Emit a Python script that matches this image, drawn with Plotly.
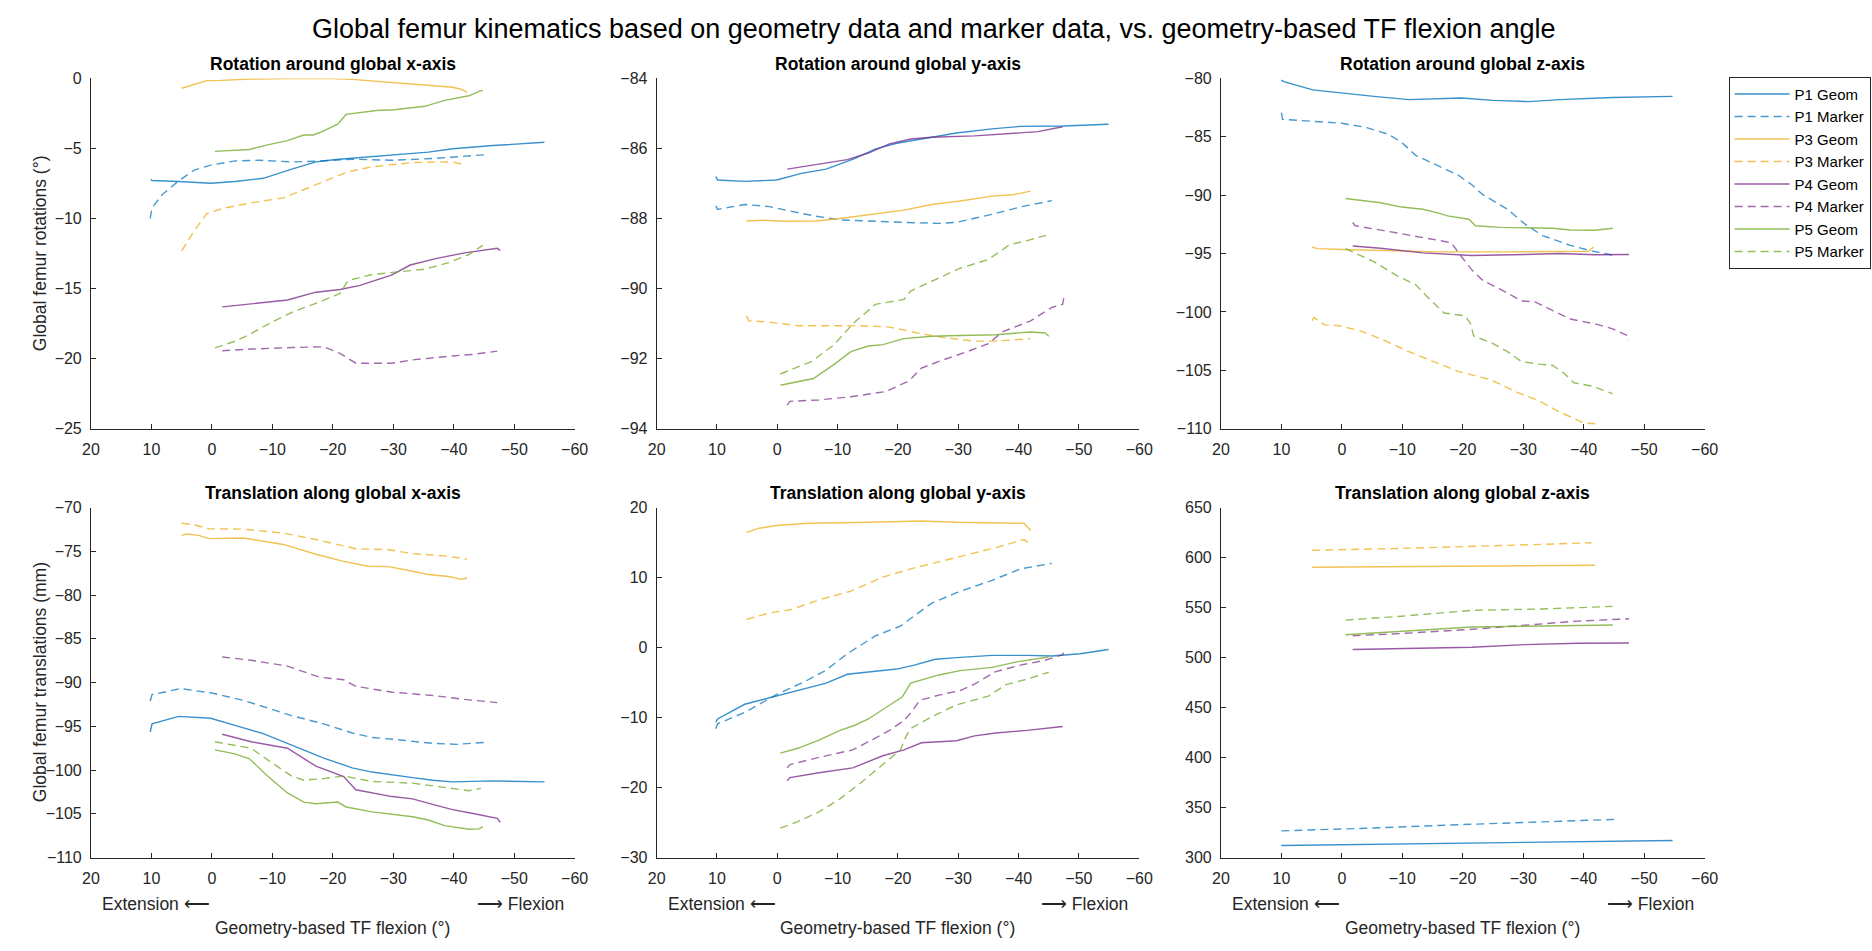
import plotly.graph_objects as go

# ---------------- data ----------------
SERIES = ["P1 Geom", "P1 Marker", "P3 Geom", "P3 Marker", "P4 Geom", "P4 Marker", "P5 Geom", "P5 Marker"]

# Rotation around global x-axis
RX_P1G_X = [10.1, 9.9, 5.5, 0.2, -3.8, -8.5, -13.2, -17.2, -20.5, -26.5, -31.2, -35.8, -39.8, -46.5, -55.0]
RX_P1G_Y = [-7.2, -7.29, -7.36, -7.48, -7.36, -7.13, -6.47, -5.96, -5.79, -5.58, -5.44, -5.26, -5.02, -4.79, -4.56]
RX_P1M_X = [10.2, 9.9, 8.2, 5.5, 2.9, 0.2, -3.8, -7.8, -13.2, -17.2, -23.2, -29.8, -36.5, -45.5]
RX_P1M_Y = [-10.0, -9.23, -8.29, -7.31, -6.54, -6.19, -5.89, -5.84, -5.96, -5.91, -5.77, -5.84, -5.72, -5.44]
RX_P3G_X = [5.0, 0.85, -1.5, -6.5, -13.2, -18.5, -23.2, -29.8, -36.5, -39.8, -41.2, -42.2]
RX_P3G_Y = [-0.70, -0.16, -0.14, -0.04, -0.01, 0.0, -0.07, -0.3, -0.54, -0.63, -0.77, -1.0]
RX_P3M_X = [5.0, 2.9, 0.85, -1.8, -6.5, -11.8, -14.5, -18.5, -22.5, -26.5, -33.2, -39.8, -42.0]
RX_P3M_Y = [-12.31, -10.86, -9.65, -9.28, -8.88, -8.53, -8.06, -7.36, -6.66, -6.31, -6.0, -5.96, -6.19]
RX_P4G_X = [-1.7, -6.5, -12.5, -17.2, -21.2, -24.5, -29.8, -32.8, -37.2, -41.8, -47.2, -47.7]
RX_P4G_Y = [-16.31, -16.07, -15.82, -15.26, -15.07, -14.77, -14.02, -13.32, -12.85, -12.45, -12.13, -12.27]
RX_P4M_X = [-1.7, -6.5, -13.2, -18.5, -21.2, -23.8, -29.8, -33.2, -39.8, -43.2, -47.2]
RX_P4M_Y = [-19.44, -19.32, -19.21, -19.16, -19.63, -20.33, -20.33, -20.09, -19.81, -19.7, -19.47]
RX_P5G_X = [-0.5, -3.15, -6.2, -9.2, -12.5, -15.2, -16.8, -18.5, -20.8, -22.2, -24.5, -27.2, -30.2, -35.2, -38.5, -42.5, -44.2, -44.8]
RX_P5G_Y = [-5.21, -5.12, -5.07, -4.74, -4.44, -4.04, -4.04, -3.74, -3.27, -2.57, -2.45, -2.29, -2.24, -1.99, -1.57, -1.24, -0.93, -0.84]
RX_P5M_X = [-0.5, -3.8, -6.5, -9.8, -13.8, -17.8, -21.2, -22.5, -26.5, -30.5, -35.2, -39.2, -42.5, -44.8]
RX_P5M_Y = [-19.23, -18.76, -18.22, -17.41, -16.59, -15.96, -15.35, -14.42, -14.0, -13.81, -13.62, -13.15, -12.57, -11.92]

# Rotation around global y-axis
RY_P1G_X = [10.2, 9.9, 5.4, 0.1, -4.0, -8.1, -12.8, -16.3, -19.8, -24.5, -29.7, -35.6, -40.3, -47.3, -54.9]
RY_P1G_Y = [-86.80, -86.90, -86.94, -86.90, -86.71, -86.59, -86.29, -86.01, -85.85, -85.71, -85.56, -85.44, -85.37, -85.36, -85.31]
RY_P1M_X = [10.2, 9.9, 5.4, 1.3, -2.2, -6.3, -10.4, -15.1, -21.0, -26.8, -29.7, -35.6, -40.3, -45.5]
RY_P1M_Y = [-87.64, -87.74, -87.60, -87.66, -87.79, -87.93, -88.04, -88.08, -88.11, -88.14, -88.11, -87.88, -87.67, -87.49]
RY_P3G_X = [5.1, 2.4, -1.1, -6.3, -10.4, -15.1, -21.0, -25.6, -30.3, -35.6, -39.1, -42.0]
RY_P3G_Y = [-88.07, -88.05, -88.08, -88.07, -88.0, -87.9, -87.76, -87.60, -87.50, -87.36, -87.32, -87.22]
RY_P3M_X = [5.1, 4.7, 1.3, -3.4, -9.3, -15.1, -18.6, -23.9, -28.0, -32.7, -36.2, -39.7, -42.0]
RY_P3M_Y = [-90.78, -90.92, -90.96, -91.06, -91.06, -91.07, -91.10, -91.29, -91.41, -91.50, -91.50, -91.46, -91.43]
RY_P4G_X = [-1.65, -6.9, -11.6, -15.1, -18.6, -22.1, -25.6, -32.7, -38.5, -43.2, -47.3]
RY_P4G_Y = [-86.59, -86.45, -86.32, -86.13, -85.87, -85.73, -85.68, -85.64, -85.57, -85.52, -85.38]
RY_P4M_X = [-1.65, -2.1, -6.9, -12.2, -18.0, -21.8, -23.9, -26.8, -31.5, -35.0, -37.3, -42.0, -45.5, -47.3, -47.6]
RY_P4M_Y = [-93.33, -93.22, -93.18, -93.09, -92.94, -92.64, -92.27, -92.08, -91.80, -91.57, -91.24, -90.92, -90.54, -90.45, -90.17]
RY_P5G_X = [-0.5, -6.0, -9.3, -12.2, -15.1, -17.5, -21.0, -25.6, -30.3, -36.2, -42.0, -44.4, -45.0]
RY_P5G_Y = [-92.76, -92.57, -92.18, -91.80, -91.64, -91.60, -91.43, -91.36, -91.34, -91.32, -91.24, -91.27, -91.36]
RY_P5M_X = [-0.5, -5.7, -9.3, -12.8, -16.3, -21.0, -22.1, -26.8, -30.3, -35.0, -38.5, -41.4, -45.0]
RY_P5M_Y = [-92.44, -92.08, -91.62, -90.96, -90.45, -90.31, -90.07, -89.70, -89.42, -89.17, -88.75, -88.63, -88.46]

# Rotation around global z-axis
RZ_P1G_X = [10.0, 9.6, 4.8, 0.0, -5.3, -11.1, -19.8, -25.0, -30.9, -36.1, -44.8, -54.7]
RZ_P1G_Y = [-80.14, -80.28, -80.98, -81.26, -81.54, -81.82, -81.68, -81.88, -81.99, -81.82, -81.63, -81.54]
RZ_P1M_X = [10.0, 9.8, 5.8, 0.0, -4.1, -7.6, -9.9, -12.2, -15.7, -19.2, -21.5, -23.3, -27.4, -30.3, -33.2, -37.8, -40.8, -44.8]
RZ_P1M_Y = [-82.94, -83.50, -83.64, -83.84, -84.21, -84.77, -85.47, -86.59, -87.43, -88.27, -89.11, -89.95, -91.21, -92.48, -93.46, -94.30, -94.72, -95.14]
RZ_P3G_X = [4.9, 4.1, 0.0, -7.0, -15.7, -27.4, -36.1, -40.8, -41.6]
RZ_P3G_Y = [-94.44, -94.58, -94.66, -94.77, -94.86, -94.86, -94.80, -94.80, -94.44]
RZ_P3M_X = [4.9, 4.6, 2.9, 0.6, -2.9, -7.0, -11.1, -15.7, -19.2, -24.5, -29.1, -32.6, -36.1, -40.1, -41.9]
RZ_P3M_Y = [-100.75, -100.47, -101.11, -101.17, -101.59, -102.43, -103.41, -104.39, -105.09, -105.79, -106.91, -107.61, -108.60, -109.52, -109.58]
RZ_P4G_X = [-1.8, -6.4, -13.4, -21.5, -30.3, -36.1, -41.9, -47.5]
RZ_P4G_Y = [-94.35, -94.55, -94.94, -95.17, -95.08, -95.0, -95.11, -95.08]
RZ_P4M_X = [-1.8, -2.2, -7.0, -12.8, -18.1, -19.8, -21.5, -23.3, -26.8, -29.7, -32.0, -34.9, -37.8, -41.9, -44.8, -47.2, -47.5]
RZ_P4M_Y = [-92.34, -92.62, -93.04, -93.60, -94.07, -95.28, -96.40, -97.30, -98.22, -99.06, -99.15, -99.90, -100.61, -101.03, -101.45, -102.01, -102.43]
RZ_P5G_X = [-0.6, -6.4, -9.9, -13.4, -15.7, -17.5, -21.0, -22.1, -26.2, -30.3, -34.9, -37.8, -41.9, -44.8]
RZ_P5G_Y = [-90.29, -90.65, -91.02, -91.21, -91.49, -91.77, -92.06, -92.62, -92.76, -92.81, -92.84, -92.98, -93.01, -92.84]
RZ_P5M_X = [-0.6, -1.8, -5.3, -9.3, -12.2, -14.0, -15.7, -16.9, -20.4, -21.3, -21.8, -25.0, -27.4, -29.7, -32.6, -34.9, -36.7, -38.4, -41.3, -44.8]
RZ_P5M_Y = [-94.58, -94.86, -95.70, -96.96, -97.66, -98.64, -99.48, -100.10, -100.33, -101.03, -102.06, -102.71, -103.41, -104.25, -104.47, -104.59, -105.23, -106.07, -106.35, -107.0]

# Translation along global x-axis
TX_P1G_X = [10.2, 9.9, 5.5, 0.2, -3.8, -8.5, -13.2, -18.5, -23.2, -26.5, -33.2, -36.5, -39.8, -46.5, -55.0]
TX_P1G_Y = [-95.65, -94.72, -93.86, -94.08, -94.90, -95.83, -97.14, -98.63, -99.75, -100.23, -100.87, -101.16, -101.35, -101.24, -101.35]
TX_P1M_X = [10.2, 9.9, 8.2, 5.2, 0.2, -5.2, -13.2, -18.5, -23.2, -26.5, -30.5, -36.5, -40.5, -45.2]
TX_P1M_Y = [-92.11, -91.36, -91.14, -90.69, -91.17, -92.03, -93.78, -94.72, -95.76, -96.28, -96.51, -96.95, -97.06, -96.84]
TX_P3G_X = [5.0, 4.2, 2.2, 0.5, -5.2, -11.8, -17.2, -21.8, -25.8, -29.2, -33.2, -35.8, -39.2, -41.2, -42.2]
TX_P3G_Y = [-73.17, -73.02, -73.17, -73.54, -73.47, -74.21, -75.33, -76.15, -76.71, -76.75, -77.27, -77.64, -77.87, -78.20, -78.05]
TX_P3M_X = [5.0, 2.9, 0.5, -5.2, -11.8, -17.2, -23.8, -29.2, -33.2, -38.5, -42.2]
TX_P3M_Y = [-71.79, -71.98, -72.42, -72.46, -72.91, -73.65, -74.70, -74.81, -75.26, -75.52, -75.89]
TX_P4G_X = [-1.7, -6.5, -12.5, -17.2, -21.8, -23.8, -29.8, -33.2, -36.5, -39.8, -43.2, -47.2, -47.7]
TX_P4G_Y = [-95.91, -96.77, -97.51, -99.56, -100.75, -102.25, -103.03, -103.29, -103.92, -104.52, -104.97, -105.53, -105.97]
TX_P4M_X = [-1.7, -6.5, -12.5, -17.8, -21.8, -23.8, -29.8, -36.5, -41.8, -47.2]
TX_P4M_Y = [-87.07, -87.45, -88.12, -89.39, -89.68, -90.43, -91.10, -91.47, -91.92, -92.29]
TX_P5G_X = [-0.5, -3.8, -6.2, -9.2, -12.5, -15.2, -17.2, -20.8, -22.2, -26.5, -33.2, -35.8, -38.5, -42.5, -44.2, -44.8]
TX_P5G_Y = [-97.70, -98.15, -98.71, -100.68, -102.62, -103.66, -103.85, -103.66, -104.22, -104.78, -105.34, -105.71, -106.35, -106.76, -106.72, -106.46]
TX_P5M_X = [-0.5, -3.8, -6.5, -9.8, -13.2, -15.2, -18.5, -21.8, -26.5, -33.2, -39.8, -42.5, -44.5]
TX_P5M_Y = [-96.77, -97.14, -97.51, -99.11, -100.68, -101.16, -100.98, -100.68, -101.31, -101.50, -102.10, -102.36, -102.10]

# Translation along global y-axis
TY_P1G_X = [10.2, 9.9, 5.4, 0.1, -4.6, -8.1, -11.6, -16.3, -19.8, -22.7, -26.2, -29.7, -35.6, -41.4, -45.5, -50.2, -54.9]
TY_P1G_Y = [-10.66, -10.19, -8.10, -6.93, -5.86, -5.07, -3.81, -3.35, -3.07, -2.51, -1.67, -1.44, -1.11, -1.11, -1.20, -0.88, -0.27]
TY_P1M_X = [10.2, 9.9, 5.4, 0.1, -4.6, -8.1, -11.6, -16.3, -20.4, -25.6, -29.7, -35.6, -40.3, -45.5]
TY_P1M_Y = [-11.59, -10.89, -9.26, -6.70, -4.84, -3.21, -0.88, 1.69, 3.08, 6.35, 7.84, 9.61, 11.24, 12.03]
TY_P3G_X = [5.1, 3.0, 0.1, -5.2, -15.1, -23.9, -29.7, -35.6, -40.9, -42.0]
TY_P3G_Y = [16.46, 17.06, 17.44, 17.76, 17.90, 18.09, 17.90, 17.86, 17.76, 16.74]
TY_P3M_X = [5.1, 1.3, -2.2, -6.9, -12.2, -17.5, -22.7, -29.7, -33.8, -36.2, -40.9, -42.0]
TY_P3M_Y = [4.02, 4.95, 5.41, 6.81, 8.07, 10.07, 11.38, 12.87, 13.71, 14.27, 15.43, 14.73]
TY_P4G_X = [-1.65, -2.1, -6.9, -12.5, -17.5, -21.0, -23.9, -29.7, -32.7, -36.2, -41.4, -47.3]
TY_P4G_Y = [-19.05, -18.58, -17.88, -17.19, -15.46, -14.62, -13.60, -13.32, -12.62, -12.20, -11.83, -11.27]
TY_P4M_X = [-1.65, -2.1, -6.9, -12.5, -15.1, -18.6, -21.0, -22.4, -23.6, -26.8, -30.3, -32.7, -36.2, -40.3, -44.4, -47.3, -47.6]
TY_P4M_Y = [-17.19, -16.72, -15.69, -14.62, -13.46, -11.83, -10.43, -9.03, -7.54, -6.79, -6.14, -5.21, -3.44, -2.51, -1.81, -1.02, -0.41]
TY_P5G_X = [-0.5, -3.4, -6.9, -10.4, -12.8, -15.1, -18.0, -20.7, -22.1, -26.8, -30.3, -35.6, -39.7, -45.0]
TY_P5G_Y = [-15.09, -14.39, -13.22, -11.83, -11.13, -10.20, -8.56, -7.07, -5.07, -3.91, -3.30, -2.83, -2.04, -1.34]
TY_P5M_X = [-0.5, -3.4, -6.9, -10.4, -13.9, -17.5, -20.4, -21.3, -22.1, -25.6, -29.7, -35.0, -37.9, -41.4, -45.0]
TY_P5M_Y = [-25.80, -24.87, -23.48, -21.61, -19.28, -16.72, -14.62, -12.76, -11.59, -9.87, -8.19, -6.93, -5.30, -4.51, -3.53]

# Translation along global z-axis
TZ_P1G_X = [10.0, -9.9, -27.4, -41.9, -54.7]
TZ_P1G_Y = [312.1, 313.7, 315.3, 316.3, 317.0]
TZ_P1M_X = [10.0, -4.1, -21.5, -33.2, -45.4]
TZ_P1M_Y = [326.7, 329.3, 333.3, 335.9, 338.2]
TZ_P3G_X = [4.9, -9.9, -27.4, -41.9]
TZ_P3G_Y = [590.3, 591.0, 591.6, 592.3]
TZ_P3M_X = [4.9, -9.9, -27.4, -41.3]
TZ_P3M_Y = [607.3, 609.2, 612.2, 614.8]
TZ_P4G_X = [-1.8, -12.8, -21.5, -30.3, -39.0, -47.5]
TZ_P4G_Y = [508.1, 509.4, 510.4, 513.0, 514.3, 514.6]
TZ_P4M_X = [-1.8, -9.9, -21.5, -30.3, -39.0, -47.5]
TZ_P4M_Y = [521.8, 524.1, 528.3, 532.2, 536.5, 538.8]
TZ_P5G_X = [-0.6, -9.9, -21.5, -33.2, -44.8]
TZ_P5G_Y = [522.8, 526.0, 530.6, 531.6, 532.6]
TZ_P5M_X = [-0.6, -9.9, -21.5, -33.2, -44.8]
TZ_P5M_Y = [537.5, 541.4, 547.2, 548.6, 551.2]

PANEL_TITLES = ["Rotation around global x-axis", "Rotation around global y-axis", "Rotation around global z-axis",
                "Translation along global x-axis", "Translation along global y-axis", "Translation along global z-axis"]
Y_RANGES = [[-25, 0], [-94, -84], [-110, -80], [-110, -70], [-30, 20], [300, 650]]
Y_DTICKS = [5, 2, 5, 5, 10, 50]
X_TICKS = [20, 10, 0, -10, -20, -30, -40, -50, -60]

PANELS = [
    [(RX_P1G_X, RX_P1G_Y), (RX_P1M_X, RX_P1M_Y), (RX_P3G_X, RX_P3G_Y), (RX_P3M_X, RX_P3M_Y),
     (RX_P4G_X, RX_P4G_Y), (RX_P4M_X, RX_P4M_Y), (RX_P5G_X, RX_P5G_Y), (RX_P5M_X, RX_P5M_Y)],
    [(RY_P1G_X, RY_P1G_Y), (RY_P1M_X, RY_P1M_Y), (RY_P3G_X, RY_P3G_Y), (RY_P3M_X, RY_P3M_Y),
     (RY_P4G_X, RY_P4G_Y), (RY_P4M_X, RY_P4M_Y), (RY_P5G_X, RY_P5G_Y), (RY_P5M_X, RY_P5M_Y)],
    [(RZ_P1G_X, RZ_P1G_Y), (RZ_P1M_X, RZ_P1M_Y), (RZ_P3G_X, RZ_P3G_Y), (RZ_P3M_X, RZ_P3M_Y),
     (RZ_P4G_X, RZ_P4G_Y), (RZ_P4M_X, RZ_P4M_Y), (RZ_P5G_X, RZ_P5G_Y), (RZ_P5M_X, RZ_P5M_Y)],
    [(TX_P1G_X, TX_P1G_Y), (TX_P1M_X, TX_P1M_Y), (TX_P3G_X, TX_P3G_Y), (TX_P3M_X, TX_P3M_Y),
     (TX_P4G_X, TX_P4G_Y), (TX_P4M_X, TX_P4M_Y), (TX_P5G_X, TX_P5G_Y), (TX_P5M_X, TX_P5M_Y)],
    [(TY_P1G_X, TY_P1G_Y), (TY_P1M_X, TY_P1M_Y), (TY_P3G_X, TY_P3G_Y), (TY_P3M_X, TY_P3M_Y),
     (TY_P4G_X, TY_P4G_Y), (TY_P4M_X, TY_P4M_Y), (TY_P5G_X, TY_P5G_Y), (TY_P5M_X, TY_P5M_Y)],
    [(TZ_P1G_X, TZ_P1G_Y), (TZ_P1M_X, TZ_P1M_Y), (TZ_P3G_X, TZ_P3G_Y), (TZ_P3M_X, TZ_P3M_Y),
     (TZ_P4G_X, TZ_P4G_Y), (TZ_P4M_X, TZ_P4M_Y), (TZ_P5G_X, TZ_P5G_Y), (TZ_P5M_X, TZ_P5M_Y)],
]

# ---------------- styling ----------------
W, H = 1872, 951
FONT = "Liberation Sans, Arial, Helvetica, sans-serif"
AXC = "#262626"
COLORS = ["rgba(0,114,189,0.78)", "rgba(0,114,189,0.72)",
          "rgba(237,177,32,0.78)", "rgba(237,177,32,0.78)",
          "rgba(126,47,142,0.80)", "rgba(126,47,142,0.72)",
          "rgba(119,172,48,0.80)", "rgba(119,172,48,0.78)"]
DASHES = ["solid", "8px,5px"] * 4

# pixel layout (left, right) and (top, bottom)
COLS = [(83, 572.7), (655.7, 1144.3), (1227, 1716.7)]
ROWS = [(71.7, 428.3), (508.7, 865.0)]

fig = go.Figure()
layout = dict(width=W, height=H, margin=dict(l=0, r=0, t=0, b=0),
              paper_bgcolor="white", plot_bgcolor="white",
              font=dict(family=FONT, color=AXC, size=16))

annotations = []
for p in range(6):
    r, c = divmod(p, 3)
    ax = "" if p == 0 else str(p + 1)
    x0, x1 = COLS[c]
    y0, y1 = ROWS[r]
    layout["xaxis" + ax] = dict(
        domain=[x0 / W, x1 / W], anchor="y" + ax, range=[20, -60], tickvals=X_TICKS,
        showline=True, linecolor=AXC, linewidth=1, ticks="inside", ticklen=5, tickcolor=AXC,
        showgrid=False, zeroline=False, tickfont=dict(size=16, color=AXC), ticklabelstandoff=6)
    layout["yaxis" + ax] = dict(
        domain=[1 - y1 / H, 1 - y0 / H], anchor="x" + ax, range=Y_RANGES[p], dtick=Y_DTICKS[p],
        showline=True, linecolor=AXC, linewidth=1, ticks="inside", ticklen=5, tickcolor=AXC,
        showgrid=False, zeroline=False, tickfont=dict(size=16, color=AXC), ticklabelstandoff=5)
    for s, (xs, ys) in enumerate(PANELS[p]):
        fig.add_trace(go.Scatter(
            x=xs, y=ys, mode="lines", name=SERIES[s], legendgroup=SERIES[s], showlegend=(p == 0),
            line=dict(color=COLORS[s], width=1.4, dash=DASHES[s]),
            xaxis="x" + ax, yaxis="y" + ax))
    # panel titles
    annotations.append(dict(text="<b>" + PANEL_TITLES[p] + "</b>", x=(x0 + x1) / 2 / W,
                            y=1 - (y0 - 15) / H, xref="paper", yref="paper", showarrow=False,
                            xanchor="center", yanchor="middle", font=dict(size=17.5, color="black")))
    if r == 1:
        annotations.append(dict(text="Extension \u27f5", x=(x0 + 9) / W, y=1 - 912 / H, xref="paper", yref="paper",
                                showarrow=False, xanchor="left", yanchor="middle", font=dict(size=17.5, color=AXC)))
        annotations.append(dict(text="\u27f6 Flexion", x=(x1 - 9) / W, y=1 - 912 / H, xref="paper", yref="paper",
                                showarrow=False, xanchor="right", yanchor="middle", font=dict(size=17.5, color=AXC)))
        annotations.append(dict(text="Geometry-based TF flexion (\u00b0)", x=(x0 + x1) / 2 / W, y=1 - 937 / H,
                                xref="paper", yref="paper", showarrow=False, xanchor="center", yanchor="middle",
                                font=dict(size=17.5, color=AXC)))

annotations.append(dict(text="Global femur rotations (\u00b0)", x=31 / W, y=1 - (ROWS[0][0] + ROWS[0][1]) / 2 / H,
                        xref="paper", yref="paper", showarrow=False, textangle=-90, xanchor="center",
                        yanchor="middle", font=dict(size=17.5, color=AXC)))
annotations.append(dict(text="Global femur translations (mm)", x=31 / W, y=1 - (ROWS[1][0] + ROWS[1][1]) / 2 / H,
                        xref="paper", yref="paper", showarrow=False, textangle=-90, xanchor="center",
                        yanchor="middle", font=dict(size=17.5, color=AXC)))
annotations.append(dict(text="Global femur kinematics based on geometry data and marker data, vs. geometry-based TF flexion angle",
                        x=0.5, y=1 - 21 / H, xref="paper", yref="paper", showarrow=False, xanchor="center",
                        yanchor="middle", font=dict(size=27, color="black")))

layout["annotations"] = annotations
layout["showlegend"] = True
layout["legend"] = dict(x=1741 / W, y=1 - 70 / H, xanchor="left", yanchor="top", bgcolor="white",
                        bordercolor=AXC, borderwidth=1, font=dict(size=15, color="black"),
                        tracegroupgap=0, itemwidth=55)
fig.update_layout(**layout)
fig.write_html("out.html")
